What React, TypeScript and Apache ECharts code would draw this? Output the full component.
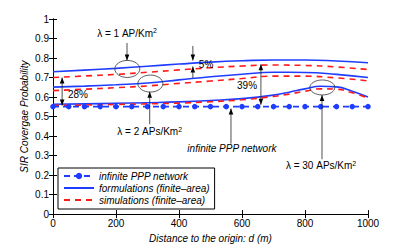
import React, { useEffect, useRef } from "react";
import * as echarts from "echarts";

// ---------- data ----------
const distInfinite = [0, 50, 100, 150, 200, 250, 300, 350, 400, 450, 500, 550, 600, 650, 700, 750, 800, 850, 900, 950, 1000];
const covInfinite = [0.551, 0.551, 0.551, 0.551, 0.551, 0.551, 0.551, 0.551, 0.551, 0.551, 0.551, 0.551, 0.551, 0.551, 0.551, 0.551, 0.551, 0.551, 0.551, 0.551, 0.551];

const distFinite = [0, 100, 200, 300, 400, 500, 600, 700, 800, 900, 1000];
const formLambda1 = [0.73, 0.738, 0.747, 0.758, 0.769, 0.779, 0.786, 0.79, 0.79, 0.785, 0.776];
const simLambda1 = [0.7, 0.708, 0.716, 0.727, 0.739, 0.75, 0.759, 0.764, 0.762, 0.754, 0.741];
const formLambda2 = [0.651, 0.656, 0.663, 0.672, 0.688, 0.704, 0.717, 0.727, 0.726, 0.716, 0.7];
const simLambda2 = [0.633, 0.64, 0.648, 0.657, 0.67, 0.682, 0.695, 0.707, 0.707, 0.698, 0.683];

const distLambda30 = [0, 100, 200, 300, 400, 500, 600, 700, 750, 800, 850, 900, 950, 1000];
const formLambda30 = [0.563, 0.565, 0.568, 0.571, 0.575, 0.582, 0.592, 0.61, 0.625, 0.642, 0.655, 0.652, 0.63, 0.6];
const simLambda30 = [0.557, 0.559, 0.562, 0.565, 0.569, 0.576, 0.586, 0.603, 0.615, 0.63, 0.642, 0.64, 0.622, 0.595];

const nameInfinite = "infinite PPP network";
const nameForm = "formulations (finite–area)";
const nameSim = "simulations (finite–area)";

// annotation anchors in data coordinates [distance, probability]
const ellipseAnchors = [
  { at: [236, 0.744], rx: 12.5, ry: 8.5 },
  { at: [309, 0.669], rx: 12.5, ry: 8.5 },
  { at: [855, 0.649], rx: 12.5, ry: 7.5 },
];
const arrowAnchors = [
  { from: [235, 0.877], to: [235, 0.787], both: false },
  { from: [307, 0.461], to: [307, 0.627], both: false },
  { from: [444, 0.862], to: [444, 0.787], both: false },
  { from: [444, 0.697], to: [444, 0.757], both: false },
  { from: [29, 0.556], to: [29, 0.7], both: true },
  { from: [660, 0.56], to: [660, 0.768], both: true },
  { from: [565, 0.361], to: [565, 0.541], both: false },
  { from: [854, 0.281], to: [854, 0.611], both: false },
];
const textAnchors = [
  { at: [235, 0.927], text: "λ = 1 AP/Km{sup|2}", italic: false },
  { at: [307, 0.421], text: "λ = 2 APs/Km{sup|2}", italic: false },
  { at: [486, 0.767], text: "5%", italic: false },
  { at: [79, 0.612], text: "28%", italic: false },
  { at: [616, 0.657], text: "39%", italic: false },
  { at: [568, 0.337], text: "infinite PPP network", italic: true },
  { at: [851, 0.247], text: "λ = 30 APs/Km{sup|2}", italic: false },
];

const FONT = "'Liberation Sans', Arial, Helvetica, sans-serif";
const BLUE = "#1f3dff";
const RED = "#ff1a1a";

const pairs = (xs: number[], ys: number[]) => xs.map((x, i) => [x, ys[i]]);

export default function App() {
  const ref = useRef<HTMLDivElement>(null);
  useEffect(() => {
    if (!ref.current) return;
    document.body.style.margin = "0";
    const chart = echarts.init(ref.current, null, { renderer: "svg" });

    const axisCommon = {
      axisLine: { lineStyle: { color: "#000", width: 1 } },
      axisTick: { inside: true, length: 4, lineStyle: { color: "#000" } },
      splitLine: { show: false },
    };
    const formLine = (data: number[][]) => ({
      name: nameForm,
      type: "line",
      data,
      smooth: true,
      showSymbol: false,
      symbol: "none",
      lineStyle: { color: BLUE, width: 1.6, type: "solid" },
      itemStyle: { color: BLUE },
      z: 3,
    });
    const simLine = (data: number[][]) => ({
      name: nameSim,
      type: "line",
      data,
      smooth: true,
      showSymbol: false,
      symbol: "none",
      lineStyle: { color: RED, width: 1.6, type: [6, 5] },
      itemStyle: { color: RED },
      z: 4,
    });

    chart.setOption({
      animation: false,
      backgroundColor: "#fff",
      textStyle: { fontFamily: FONT },
      grid: { left: 53, right: 39, top: 19, bottom: 29 },
      legend: {
        orient: "vertical",
        left: 58,
        top: 168,
        data: [
          { name: nameInfinite },
          { name: nameForm, itemStyle: { opacity: 0 } },
          { name: nameSim, itemStyle: { opacity: 0 } },
        ],
        backgroundColor: "#fff",
        borderColor: "#000",
        borderWidth: 1,
        borderRadius: 0,
        padding: [3, 5, 4, 5],
        itemWidth: 30,
        itemHeight: 8,
        itemGap: 2,
        textStyle: { fontFamily: FONT, fontSize: 10, fontStyle: "italic", color: "#000" },
      },
      xAxis: [
        {
          type: "value",
          min: 0,
          max: 1000,
          interval: 200,
          position: "bottom",
          name: "Distance to the origin: d (m)",
          nameLocation: "middle",
          nameGap: 17,
          nameTextStyle: { fontFamily: FONT, fontSize: 10, fontStyle: "italic", color: "#000" },
          axisLabel: { fontFamily: FONT, fontSize: 10, color: "#000", margin: 4, formatter: (v: number) => String(v) },
          ...axisCommon,
        },
        {
          type: "value",
          min: 0,
          max: 1000,
          interval: 200,
          position: "top",
          axisLabel: { show: false },
          ...axisCommon,
        },
      ],
      yAxis: [
        {
          type: "value",
          min: 0,
          max: 1,
          interval: 0.1,
          position: "left",
          name: "SIR Covergae Probability",
          nameLocation: "middle",
          nameGap: 24,
          nameMoveOverlap: false,
          nameTextStyle: { fontFamily: FONT, fontSize: 10, fontStyle: "italic", color: "#000" },
          axisLabel: { fontFamily: FONT, fontSize: 10, color: "#000", margin: 4 },
          ...axisCommon,
        },
        {
          type: "value",
          min: 0,
          max: 1,
          interval: 0.1,
          position: "right",
          axisLabel: { show: false },
          ...axisCommon,
        },
      ],
      series: [
        {
          name: nameInfinite,
          type: "line",
          data: pairs(distInfinite, covInfinite),
          symbol: "circle",
          symbolSize: 5.5,
          showSymbol: true,
          lineStyle: { color: BLUE, width: 1.6, type: [6, 4] },
          itemStyle: { color: BLUE },
          z: 5,
        },
        formLine(pairs(distFinite, formLambda1)),
        simLine(pairs(distFinite, simLambda1)),
        formLine(pairs(distFinite, formLambda2)),
        simLine(pairs(distFinite, simLambda2)),
        formLine(pairs(distLambda30, formLambda30)),
        simLine(pairs(distLambda30, simLambda30)),
      ],
    });

    const px = (p: number[]) => chart.convertToPixel({ xAxisIndex: 0, yAxisIndex: 0 }, p) as number[];
    const graphics: any[] = [];
    const head = (tip: number[], base: number[]) => {
      const dx = tip[0] - base[0];
      const dy = tip[1] - base[1];
      const len = Math.hypot(dx, dy) || 1;
      const ux = dx / len, uy = dy / len;
      const nx = -uy, ny = ux;
      const L = 6, W = 2.3;
      return {
        type: "polygon",
        shape: {
          points: [
            [tip[0], tip[1]],
            [tip[0] - ux * L + nx * W, tip[1] - uy * L + ny * W],
            [tip[0] - ux * L - nx * W, tip[1] - uy * L - ny * W],
          ],
        },
        style: { fill: "#000" },
        z: 10,
      };
    };
    ellipseAnchors.forEach((e) => {
      const c = px(e.at);
      graphics.push({
        type: "ellipse",
        shape: { cx: c[0], cy: c[1], rx: e.rx, ry: e.ry },
        style: { fill: "none", stroke: "#333", lineWidth: 0.8 },
        z: 10,
      });
    });
    arrowAnchors.forEach((a) => {
      const p1 = px(a.from);
      const p2 = px(a.to);
      graphics.push({
        type: "line",
        shape: { x1: p1[0], y1: p1[1], x2: p2[0], y2: p2[1] },
        style: { stroke: "#222", lineWidth: 0.8 },
        z: 10,
      });
      graphics.push(head(p2, p1));
      if (a.both) graphics.push(head(p1, p2));
    });
    textAnchors.forEach((t) => {
      const c = px(t.at);
      graphics.push({
        type: "text",
        x: c[0],
        y: c[1],
        style: {
          text: t.text,
          fontFamily: FONT,
          fontSize: 10,
          fontStyle: t.italic ? "italic" : "normal",
          fill: "#000",
          align: "center",
          verticalAlign: "middle",
          lineHeight: 12,
          rich: {
            sup: { fontSize: 7, lineHeight: 12, verticalAlign: "top", fontFamily: FONT, padding: [0, 0, 5, 0] },
          },
        },
        z: 11,
      });
    });
    chart.setOption({ graphic: graphics });

    return () => chart.dispose();
  }, []);
  return <div ref={ref} style={{ width: 407, height: 248 }} />;
}
